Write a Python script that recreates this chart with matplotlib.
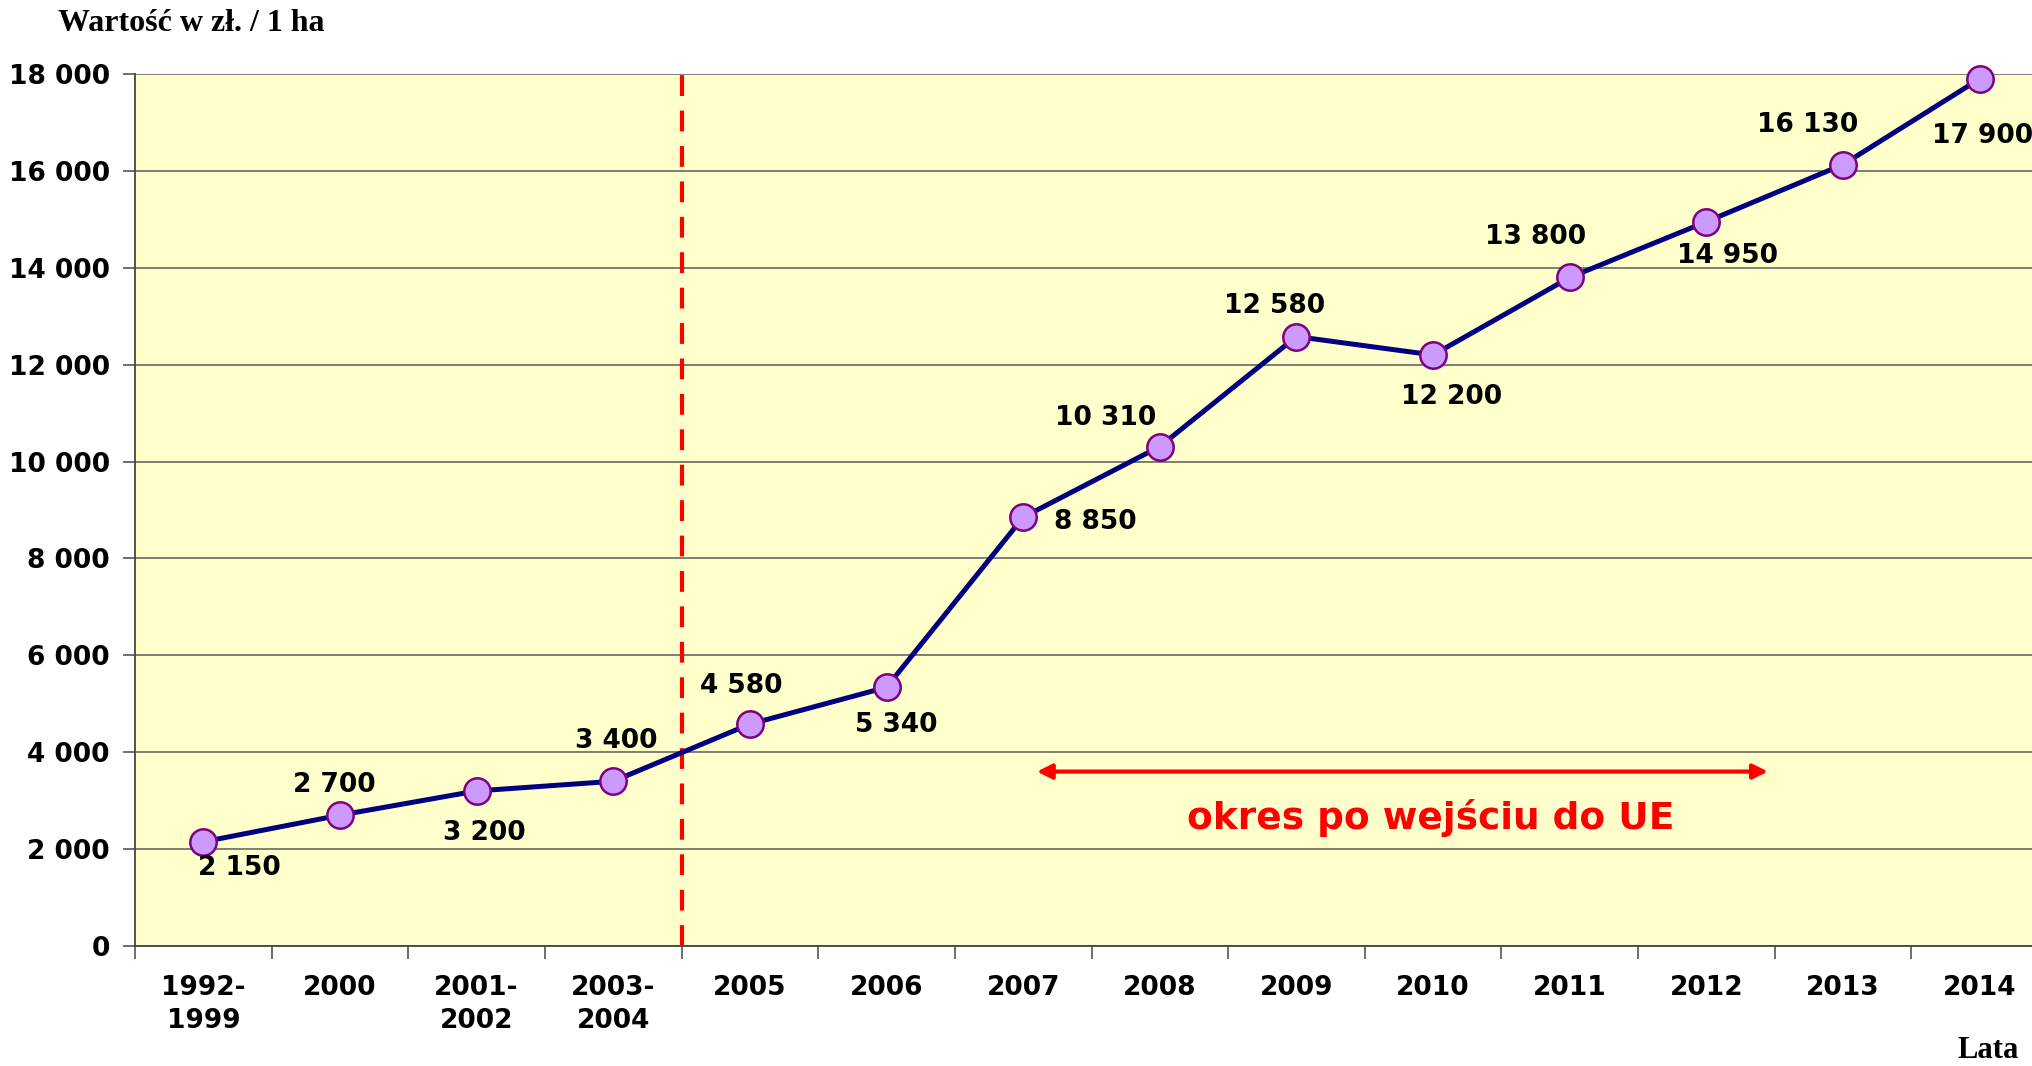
"""Wartość gruntów rolnych w zł / 1 ha, 1992-2014."""

import matplotlib

matplotlib.use("Agg")
import matplotlib.pyplot as plt
from matplotlib.ticker import FuncFormatter, MultipleLocator

# data
periods = ["1992-\n1999", "2000", "2001-\n2002", "2003-\n2004", "2005", "2006", "2007",
           "2008", "2009", "2010", "2011", "2012", "2013", "2014"]
values = [2150, 2700, 3200, 3400, 4580, 5340, 8850, 10310, 12580, 12200, 13800,
          14950, 16130, 17900]
y_ticks = [0, 2000, 4000, 6000, 8000, 10000, 12000, 14000, 16000, 18000]
eu_entry = 3.5  # boundary between 2003-2004 and 2005
eu_span = (6.1, 11.45)
eu_arrow_level = 3600
eu_text = "okres po wejściu do UE"

# label offsets in pixels (dx, dy), dy positive = up
label_offsets = [(36, -26), (-6, 30), (8, -42), (3, 40), (-9, 38), (10, -38), (72, -5),
                 (-54, 29), (-22, 31), (18, -42), (-34, 40), (21, -34), (-35, 40), (3, -57)]

plt.rcParams["font.family"] = ["DejaVu Sans"]

fig = plt.figure(figsize=(20.33, 10.66), dpi=100)
ax = fig.add_axes([0.0664, 0.1126, 0.9336, 0.818])
ax.set_facecolor("#FFFFCC")

xs = list(range(len(periods)))
ax.plot(xs, values, color="#000080", linewidth=3.6, marker="o", markersize=19,
        markerfacecolor="#CC99FF", markeredgecolor="#800080", markeredgewidth=1.8,
        zorder=4, clip_on=False)

for x, v, (dx, dy) in zip(xs, values, label_offsets):
    ax.annotate(f"{v:,}".replace(",", " "), (x, v), xytext=(dx, dy),
                textcoords="offset pixels", ha="center", va="center",
                fontsize=19, fontweight="bold", color="black", zorder=5)

ax.axvline(eu_entry, color="#FF0000", linewidth=3, linestyle=(0, (5, 3.5)), zorder=3)

ax.annotate("", xy=(eu_span[0], eu_arrow_level), xytext=(eu_span[1], eu_arrow_level),
            arrowprops=dict(arrowstyle="<|-|>", color="#FF0000", lw=3,
                            mutation_scale=22, shrinkA=0, shrinkB=0), zorder=3)
ax.text(8.98, 2650, eu_text, color="#FF0000", fontsize=27,
        fontweight="bold", ha="center", va="center")

ax.set_xlim(-0.5, 13.39)
ax.set_ylim(0, 18000)
ax.set_yticks(y_ticks)
ax.yaxis.set_major_formatter(FuncFormatter(lambda v, _: f"{int(v):,}".replace(",", " ")))
ax.grid(True, axis="y", color="#5a5a5a", linewidth=1.1)
ax.set_axisbelow(True)

# category ticks at boundaries, labels at centres
ax.xaxis.set_major_locator(MultipleLocator(1.0, offset=0.5))
ax.xaxis.set_major_formatter(FuncFormatter(lambda v, _: ""))
ax.set_xticks(xs, minor=True)
ax.set_xticklabels(periods, minor=True, fontsize=19, fontweight="bold", linespacing=1.35,
                   va="top")
ax.tick_params(axis="x", which="minor", length=0, pad=21)
ax.tick_params(axis="x", which="major", length=9, width=1.2, color="#555555", direction="out")
ax.tick_params(axis="y", length=9, width=1.2, color="#555555", pad=9, labelsize=19)
for lab in ax.get_yticklabels():
    lab.set_fontweight("bold")

for side in ("top", "right"):
    ax.spines[side].set_visible(False)
for side in ("left", "bottom"):
    ax.spines[side].set_color("#444444")
    ax.spines[side].set_linewidth(1.3)

fig.text(0.0285, 0.978, "Wartość w zł. / 1 ha", family="Liberation Serif",
         fontweight="bold", fontsize=23, ha="left", va="center")
fig.text(0.993, 0.015, "Lata", family="Liberation Serif", fontweight="bold",
         fontsize=22, ha="right", va="center")

fig.savefig("out.png", dpi=100, facecolor="white")
